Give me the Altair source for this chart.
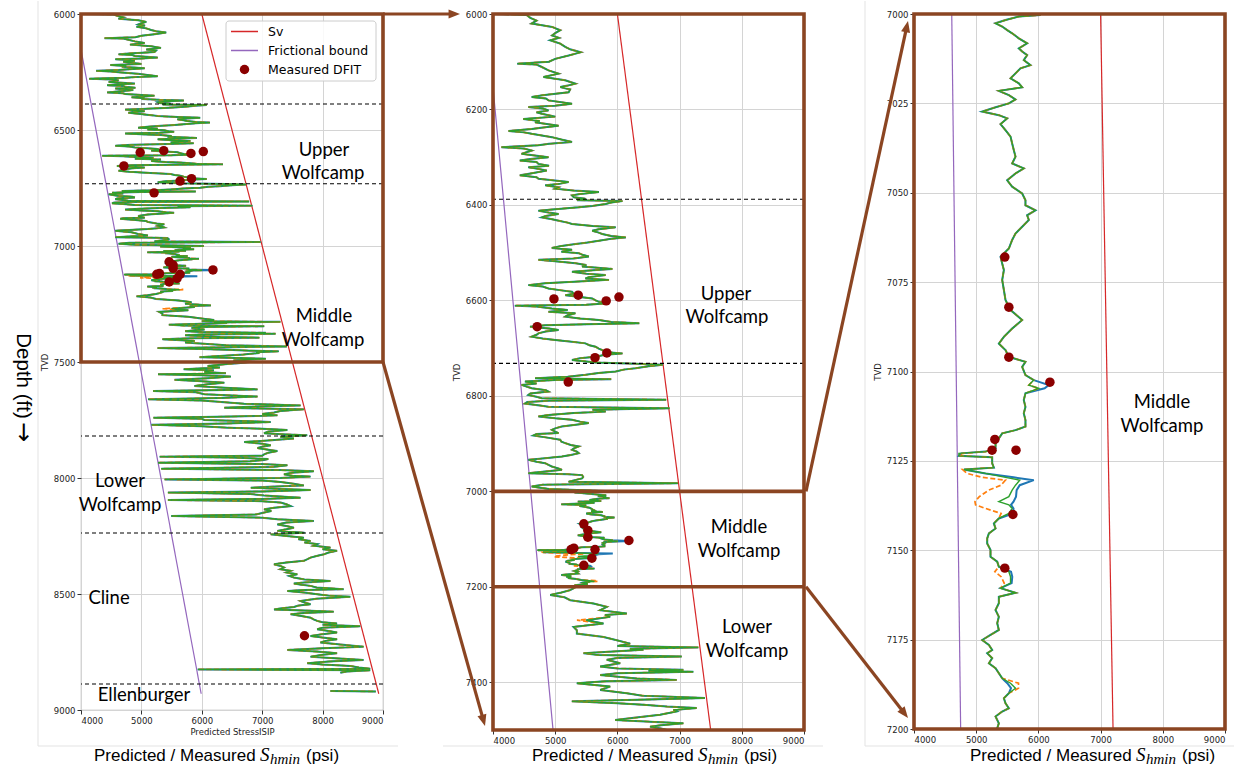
import math
import altair as alt
import pandas as pd

# ---------------------------------------------------------------------------
# Predicted Shmin log, (TVD ft, stress psi) pairs listed top to bottom
# ---------------------------------------------------------------------------
log_6000_6490 = [
    (6000, 4050), (6002, 4540), (6008, 4600), (6014, 4700), (6020, 4620), (6027, 4950),
    (6034, 5081), (6040, 5000), (6045, 4950), (6050, 5060), (6055, 4919), (6062, 5081),
    (6069, 5162), (6074, 5240), (6080, 5410), (6084, 5300), (6087, 5216), (6094, 5000),
    (6100, 4900), (6104, 4390), (6106, 4700), (6111, 4784), (6118, 4892), (6125, 5054),
    (6132, 4811), (6139, 5162), (6146, 5324), (6150, 5200), (6153, 5081), (6158, 5240),
    (6164, 5216), (6170, 4800), (6174, 4622), (6177, 4850), (6181, 4892), (6188, 5270),
    (6192, 5000), (6195, 4568), (6198, 4800), (6202, 4892), (6206, 4700), (6209, 4784),
    (6215, 5000), (6220, 4486), (6224, 4750), (6227, 4676), (6234, 5054), (6238, 4800),
    (6241, 4622), (6245, 4250), (6248, 4500), (6251, 4622), (6258, 4946), (6263, 5100),
    (6268, 5270), (6272, 4900), (6275, 4730), (6279, 4135), (6282, 4500), (6286, 4622),
    (6293, 4459), (6300, 4892), (6304, 4600), (6307, 4432), (6310, 4700), (6314, 4730),
    (6318, 4900), (6321, 4568), (6325, 4750), (6328, 4865), (6333, 4650), (6338, 4432),
    (6342, 4700), (6345, 4730), (6349, 5000), (6352, 5216), (6356, 5050), (6359, 4838),
    (6363, 5050), (6366, 5000), (6370, 5300), (6373, 5703), (6377, 5400), (6380, 5270),
    (6384, 5300), (6387, 5486), (6390, 5350), (6392, 6081), (6395, 5900), (6398, 5811),
    (6402, 5600), (6405, 5378), (6409, 5000), (6412, 4730), (6416, 4900), (6419, 5054),
    (6423, 4850), (6426, 4784), (6430, 4950), (6433, 5054), (6437, 5200), (6440, 5270),
    (6444, 5600), (6447, 5973), (6451, 5700), (6454, 5595), (6458, 5700), (6461, 5757),
    (6465, 5900), (6468, 6135), (6471, 5900), (6475, 5703), (6479, 5500), (6482, 5324),
    (6486, 5100), (6490, 4946),
]
log_6494_6995 = [
    (6494, 5270), (6498, 5100), (6501, 5378), (6505, 5450), (6508, 5541), (6512, 5300),
    (6515, 4730), (6518, 5000), (6522, 5324), (6526, 5500), (6529, 5432), (6534, 5919),
    (6537, 5600), (6540, 5270), (6544, 5500), (6547, 5811), (6551, 5550), (6554, 5486),
    (6557, 5865), (6561, 5300), (6564, 4838), (6568, 4568), (6571, 4800), (6575, 4892),
    (6579, 5100), (6582, 5270), (6586, 5300), (6589, 5162), (6593, 5400), (6596, 5595),
    (6600, 5650), (6603, 5703), (6606, 5865), (6609, 5500), (6611, 4351), (6613, 4700),
    (6617, 4946), (6620, 5200), (6624, 4892), (6627, 5324), (6631, 5200), (6634, 5162),
    (6638, 5400), (6641, 5703), (6645, 5900), (6648, 6351), (6650, 5500), (6652, 4838),
    (6655, 4595), (6659, 4900), (6662, 5054), (6665, 4850), (6669, 4730), (6672, 4700),
    (6676, 4622), (6680, 4800), (6683, 5000), (6687, 5300), (6690, 5486), (6694, 5550),
    (6697, 5649), (6701, 5700), (6704, 5757), (6708, 5800), (6711, 6081), (6714, 5800),
    (6718, 5649), (6721, 5400), (6725, 5270), (6728, 5500), (6730, 5649), (6733, 6400),
    (6735, 6730), (6738, 6500), (6742, 6297), (6745, 6100), (6749, 5973), (6752, 5700),
    (6756, 5486), (6760, 5200), (6763, 4676), (6765, 5900), (6767, 5000), (6770, 4514),
    (6774, 4700), (6777, 4459), (6781, 4550), (6784, 4622), (6788, 4850), (6791, 4892),
    (6795, 4600), (6798, 4568), (6802, 4700), (6805, 4784), (6808, 6784), (6810, 4900),
    (6813, 4550), (6816, 4514), (6820, 4750), (6823, 4892), (6826, 6838), (6829, 5600),
    (6833, 5811), (6836, 5300), (6840, 4892), (6843, 4730), (6847, 5000), (6850, 5270),
    (6854, 5400), (6857, 5541), (6861, 5300), (6864, 5108), (6868, 5000), (6871, 4946),
    (6875, 5000), (6878, 5054), (6880, 4700), (6883, 4649), (6888, 4900), (6892, 5081),
    (6896, 5100), (6899, 5162), (6903, 5250), (6906, 5378), (6910, 5300), (6913, 5270),
    (6917, 5350), (6920, 5378), (6924, 5250), (6927, 5108), (6931, 4800), (6934, 4568),
    (6938, 4700), (6941, 4838), (6945, 4900), (6948, 4946), (6952, 5050), (6955, 5108),
    (6959, 4800), (6962, 4568), (6964, 5200), (6966, 5432), (6970, 5450), (6973, 5432),
    (6977, 5300), (6980, 5216), (6983, 6973), (6986, 4800), (6990, 4622), (6995, 4900),
]
log_7000_7200 = [
    (7000.3, 6033), (7000.7, 5685), (7001.7, 5471), (7002.6, 5311), (7003.5, 5418),
    (7004.5, 5498), (7005.4, 5578), (7006.8, 5685), (7008.2, 5819), (7009.6, 5685),
    (7010.5, 5739), (7011.5, 5819), (7012.9, 5765), (7014.3, 5872), (7015.2, 5712),
    (7016.6, 5632), (7018.0, 5552), (7019.4, 5685), (7020.5, 5739), (7021.5, 5364),
    (7022.7, 5525), (7023.9, 5632), (7025.0, 5525), (7026.1, 5311), (7027.3, 5097),
    (7028.3, 5364), (7029.2, 5498), (7030.8, 5391), (7032.5, 5471), (7034.3, 5552),
    (7036.2, 5578), (7038.1, 5605), (7039.9, 5632), (7041.8, 5578), (7043.2, 5765),
    (7044.6, 5632), (7046.5, 5498), (7048.3, 5578), (7050.2, 5739), (7052.1, 5792),
    (7053.5, 5792), (7054.9, 5953), (7056.3, 5819), (7057.6, 5846), (7059.5, 5739),
    (7061.4, 5632), (7063.2, 5578), (7065.6, 5525), (7067.9, 5391), (7069.8, 5418),
    (7071.6, 5445), (7074.4, 5418), (7077.2, 5445), (7080.0, 5471), (7082.8, 5552),
    (7085.6, 5739), (7088.0, 5578), (7090.3, 5445), (7092.2, 5364), (7094.0, 5471),
    (7095.9, 5525), (7097.3, 5792), (7098.7, 5739), (7101.0, 5792), (7102.4, 5926),
    (7103.8, 5846), (7104.7, 6006), (7106.1, 5792), (7108.0, 5765), (7109.9, 5792),
    (7111.7, 5765), (7113.6, 5792), (7115.4, 5792), (7116.4, 5632), (7117.3, 5418),
    (7118.7, 5364), (7120.1, 5311), (7121.5, 5311), (7122.4, 5150), (7122.9, 4722),
    (7123.6, 4722), (7124.0, 5257), (7125.7, 5257), (7126.9, 5284), (7127.4, 4803),
    (7128.5, 5150), (7129.6, 5471), (7130.4, 5700), (7131.8, 5632), (7133.2, 5578),
    (7135.0, 5525), (7136.4, 5364), (7137.3, 5525), (7138.3, 5578), (7139.7, 5525),
    (7141.1, 5364), (7142.5, 5284), (7143.9, 5311), (7145.3, 5204), (7146.7, 5177),
    (7148.1, 5177), (7149.9, 5230), (7151.8, 5230), (7153.2, 5338), (7154.6, 5364),
    (7156.0, 5525), (7157.4, 5552), (7159.2, 5552), (7160.6, 5391), (7161.9, 5632),
    (7163.0, 5364), (7164.8, 5364), (7166.7, 5311), (7168.6, 5364), (7170.4, 5338),
    (7172.3, 5364), (7173.7, 5230), (7175.1, 5097), (7176.5, 5204), (7177.9, 5257),
    (7178.8, 5177), (7180.2, 5257), (7181.6, 5204), (7183.0, 5311), (7184.4, 5364),
    (7185.8, 5418), (7187.2, 5552), (7188.6, 5632), (7190.0, 5525), (7191.4, 5445),
    (7192.8, 5471), (7194.2, 5525), (7195.1, 5418), (7196.5, 5311), (7198.4, 5364),
    (7199.8, 5338),
]
log_7203_7497 = [
    (7203, 5300), (7207, 5241), (7212, 5100), (7217, 4920), (7222, 5150), (7228, 5241),
    (7235, 5616), (7242, 5830), (7249, 5723), (7256, 6151), (7259, 5800), (7263, 5883),
    (7270, 5500), (7277, 5776), (7284, 5295), (7291, 5348), (7298, 5348), (7305, 5776),
    (7312, 5990), (7319, 6204), (7324, 6000), (7327, 7301), (7330, 6200), (7332, 6418),
    (7339, 5455), (7343, 5700), (7346, 7033), (7349, 6000), (7353, 5830), (7360, 6044),
    (7367, 5723), (7371, 6000), (7374, 7060), (7376, 6500), (7378, 7221), (7381, 6000),
    (7385, 5723), (7392, 6311), (7395, 6953), (7398, 5800), (7402, 5348), (7409, 5883),
    (7416, 5723), (7423, 6151), (7428, 6400), (7433, 7408), (7436, 6500), (7440, 5268),
    (7444, 6000), (7447, 6418), (7451, 6800), (7454, 7274), (7458, 6900), (7461, 6953),
    (7468, 6686), (7474, 6300), (7479, 5963), (7483, 6600), (7486, 7060), (7490, 6700),
    (7493, 6525), (7497, 6700),
]
log_7500_8243 = [
    (7500, 6800), (7505, 6600), (7510, 6373), (7517, 6098), (7524, 6300), (7531, 5700),
    (7536, 6200), (7543, 6043), (7548, 6400), (7553, 5275), (7557, 6000), (7563, 6482),
    (7570, 6100), (7577, 5549), (7583, 6000), (7589, 6373), (7596, 6100), (7603, 5878),
    (7610, 6300), (7618, 6922), (7621, 6400), (7625, 5192), (7630, 5900), (7639, 6043),
    (7644, 6500), (7649, 6922), (7655, 6300), (7661, 5110), (7666, 6000), (7672, 6318),
    (7680, 6700), (7687, 7635), (7692, 6900), (7697, 6373), (7700, 6900), (7704, 7690),
    (7711, 7300), (7718, 7196), (7724, 7000), (7730, 7251), (7735, 6500), (7740, 5200),
    (7745, 6000), (7750, 6043), (7755, 6800), (7759, 7141), (7765, 6400), (7771, 5165),
    (7777, 6000), (7783, 6427), (7788, 7000), (7793, 7416), (7800, 7100), (7807, 7031),
    (7812, 7400), (7816, 7745), (7822, 7300), (7830, 7525), (7838, 7100), (7845, 6702),
    (7852, 7000), (7859, 7141), (7865, 7000), (7871, 6922), (7878, 7100), (7884, 7251),
    (7891, 7100), (7898, 7031), (7904, 7000), (7908, 5302), (7912, 6500), (7918, 7100),
    (7922, 7031), (7928, 6800), (7934, 5275), (7940, 7000), (7945, 7416), (7952, 7200),
    (7960, 5329), (7966, 7300), (7971, 7855), (7977, 7500), (7984, 7361), (7990, 7500),
    (7994, 7800), (8000, 7300), (8006, 5384), (8011, 7000), (8017, 7306), (8024, 7500),
    (8032, 7690), (8037, 7200), (8042, 6812), (8047, 7300), (8052, 7800), (8058, 7000),
    (8063, 5439), (8069, 6800), (8075, 7031), (8080, 7300), (8085, 7635), (8090, 7000),
    (8095, 5439), (8100, 7000), (8106, 7306), (8113, 7400), (8121, 7471), (8128, 7200),
    (8135, 7031), (8142, 7150), (8149, 7031), (8157, 6900), (8164, 5494), (8171, 7000),
    (8178, 7251), (8185, 7855), (8192, 7400), (8200, 7251), (8207, 7400), (8214, 7525),
    (8221, 7400), (8228, 7251), (8236, 7700), (8243, 7141),
]
log_8250_8839 = [
    (8250, 7400), (8257, 7690), (8264, 7600), (8271, 7800), (8278, 7700), (8285, 7910),
    (8292, 7850), (8300, 8129), (8307, 8000), (8314, 8239), (8321, 8100), (8329, 8020),
    (8336, 7900), (8343, 7800), (8350, 7750), (8357, 7690), (8364, 7400), (8372, 7196),
    (8379, 7300), (8386, 7361), (8393, 7300), (8400, 7471), (8407, 7400), (8415, 7580),
    (8422, 7450), (8429, 7525), (8437, 7700), (8444, 8129), (8450, 7700), (8455, 7525),
    (8460, 7650), (8465, 7800), (8472, 7900), (8479, 8349), (8483, 7700), (8487, 7416),
    (8494, 7700), (8501, 7910), (8507, 8100), (8512, 8459), (8520, 7900), (8530, 7635),
    (8537, 7700), (8544, 7800), (8550, 7600), (8556, 7525), (8562, 7300), (8567, 7196),
    (8572, 7800), (8576, 8184), (8582, 7700), (8587, 7471), (8595, 7650), (8602, 7800),
    (8609, 7850), (8616, 7910), (8622, 8000), (8627, 8239), (8633, 8000), (8639, 8623),
    (8645, 8000), (8652, 7910), (8659, 8100), (8666, 8239), (8673, 8000), (8681, 7800),
    (8688, 8000), (8695, 8239), (8702, 8050), (8709, 7965), (8718, 8300), (8727, 8678),
    (8734, 8000), (8741, 7416), (8748, 7900), (8755, 8239), (8762, 8000), (8770, 7800),
    (8777, 8200), (8784, 8678), (8791, 8100), (8798, 7745), (8804, 8000), (8810, 8459),
    (8817, 8600), (8822, 8788), (8825, 5933), (8829, 8788), (8834, 8400), (8839, 8294),
]
log_ellenburger = [(8918, 8130), (8920, 8880)]

# The three predicted curves coincide except at these depths
blue_departures = {
    7103.8: 6167, 7104.7: 6100, 7122.9: 4760, 7129.6: 5600, 7130.4: 5926, 7131.8: 5700,
    7133.2: 5650, 7135.0: 5640, 7136.4: 5600, 7137.3: 5560, 7138.3: 5600, 7139.7: 5590,
    7156.0: 5560, 7157.4: 5580, 7159.2: 5570, 7187.2: 5500, 7188.6: 5560,
}
orange_departures = {
    7122.9: 4780, 7127.4: 4780, 7128.5: 4850, 7129.6: 5100, 7130.4: 5470, 7131.8: 5400,
    7133.2: 5200, 7135.0: 5050, 7136.4: 4980, 7137.3: 4990, 7138.3: 5150, 7139.7: 5400,
    7156.0: 5300, 7157.4: 5400, 7159.2: 5450, 7187.2: 5680, 7188.6: 5680, 7270: 5350,
}

# Measured DFIT closure stresses
dfit_depth_ft = [6589, 6593, 6597, 6601, 6655, 6710, 6720, 6771, 7068, 7082, 7096,
                 7103, 7119, 7122, 7122, 7140, 7155, 8680]
dfit_psi = [5370, 6025, 4980, 5820, 4710, 5830, 5640, 5210, 5460, 5525, 5525,
            6185, 5300, 5255, 5640, 5590, 5460, 7700]

# Overburden and frictional lower bound
sv_depth_ft = [6000, 8930]
sv_psi = [6000, 8930]
friction_depth_ft = [6000, 8930]
friction_psi = [3890, 5990]

# Formation tops (dashed)
formation_tops_ft = [6388, 6732, 7819, 8237, 8888]

# Formation names per panel: text, psi, depth
names_full = [("Upper", 8023, 6586), ("Wolfcamp", 8007, 6687), ("Middle", 8023, 7302),
              ("Wolfcamp", 8007, 7405), ("Lower", 4646, 8013), ("Wolfcamp", 4646, 8116),
              ("Cline", 4464, 8517), ("Ellenburger", 5043, 8935)]
names_upper = [("Upper", 7746, 6587), ("Wolfcamp", 7762, 6635), ("Middle", 7955, 7075),
               ("Wolfcamp", 7955, 7125), ("Lower", 8084, 7284), ("Wolfcamp", 8084, 7334)]
names_middle = [("Middle", 7987, 7108.5), ("Wolfcamp", 7987, 7115.2)]

X_DOMAIN = [4000, 9000]
X_TICKS = [4000, 5000, 6000, 7000, 8000, 9000]

BROWN = "#8b4522"
FRAME = "#e3e3e3"
W1, H1 = 302, 696
W2, H2 = 311, 716
W3, H3 = 311, 715
GAP = 110

# ---------------------------------------------------------------------------
main_log = (log_6000_6490 + log_6494_6995 + log_7000_7200 + log_7203_7497
            + log_7500_8243 + log_8250_8839)


def curve(departures):
    rows = []
    for seg, pts in enumerate([main_log, log_ellenburger]):
        for d, p in pts:
            rows.append({"depth": d, "psi": departures.get(d, p), "seg": seg})
    return pd.DataFrame(rows)


blue_df = curve(blue_departures)
orange_df = curve(orange_departures)
green_df = curve({})
dfit_df = pd.DataFrame({"depth": dfit_depth_ft, "psi": dfit_psi})
sv_df = pd.DataFrame({"depth": sv_depth_ft, "psi": sv_psi})
fric_df = pd.DataFrame({"depth": friction_depth_ft, "psi": friction_psi})
tops_df = pd.DataFrame({"depth": formation_tops_ft})
ONE = pd.DataFrame({"k": [0]})


def window(df, lo, hi, pad=15):
    return df[(df.depth >= lo - pad) & (df.depth <= hi + pad)]


def encodings(ydom, yticks, xtitle):
    x = alt.X("psi:Q", scale=alt.Scale(domain=X_DOMAIN, nice=False, zero=False),
              axis=alt.Axis(values=X_TICKS, format="d", title=xtitle, titlePadding=3))
    y = alt.Y("depth:Q", scale=alt.Scale(domain=ydom, reverse=True, nice=False, zero=False),
              axis=alt.Axis(values=yticks, format="d", title="TVD", titlePadding=4))
    return x, y


def text_px(label, x, y, **kw):
    return alt.Chart(pd.DataFrame({"label": [label]})).mark_text(**kw).encode(
        text="label:N", x=alt.value(x), y=alt.value(y))


def rule_px(x, x2, y, y2, color, width):
    return alt.Chart(ONE).mark_rule(color=color, strokeWidth=width).encode(
        x=alt.value(x), x2=alt.value(x2), y=alt.value(y), y2=alt.value(y2))


def shmin_title(left, base):
    return [
        text_px("Predicted / Measured", left, base, align="left", baseline="alphabetic",
                font="Liberation Sans", fontSize=17, color="black"),
        text_px("S", left + 166, base, align="left", baseline="alphabetic",
                font="Liberation Serif", fontStyle="italic", fontSize=19, color="black"),
        text_px("hmin", left + 176, base + 3, align="left", baseline="alphabetic",
                font="Liberation Serif", fontStyle="italic", fontSize=15, color="black"),
        text_px("(psi)", left + 212, base, align="left", baseline="alphabetic",
                font="Liberation Sans", fontSize=17, color="black"),
    ]


def arrow(tail, tip):
    dx, dy = tip[0] - tail[0], tip[1] - tail[1]
    n = math.hypot(dx, dy)
    ang = math.degrees(math.atan2(dx, -dy)) % 360
    shaft = rule_px(tail[0], tip[0] - 5 * dx / n, tail[1], tip[1] - 5 * dy / n, BROWN, 3.2)
    head = alt.Chart(ONE).mark_point(
        shape="M0,0L-0.7,1.75L0.7,1.75Z", filled=True, color=BROWN, opacity=1,
        size=170, angle=ang, strokeWidth=0).encode(x=alt.value(tip[0]), y=alt.value(tip[1]))
    return [shaft, head]


def data_layers(x, y, lo, hi):
    order = alt.Order("depth:Q")
    layers = [
        alt.Chart(fric_df).mark_line(color="#9467bd", strokeWidth=1.2, clip=True).encode(
            x=x, y=y, order=order),
        alt.Chart(sv_df).mark_line(color="#d62728", strokeWidth=1.2, clip=True).encode(
            x=x, y=y, order=order),
        alt.Chart(window(blue_df, lo, hi)).mark_line(color="#1f77b4", strokeWidth=2.0,
                                                     clip=True).encode(
            x=x, y=y, detail="seg:N", order=order),
        alt.Chart(window(orange_df, lo, hi)).mark_line(color="#ff7f0e", strokeWidth=1.7,
                                                       strokeDash=[5, 2.5], clip=True).encode(
            x=x, y=y, detail="seg:N", order=order),
        alt.Chart(window(green_df, lo, hi)).mark_line(color="#2ca02c", strokeWidth=1.4,
                                                      clip=True).encode(
            x=x, y=y, detail="seg:N", order=order),
        alt.Chart(tops_df[(tops_df.depth > lo) & (tops_df.depth < hi)]).mark_rule(
            color="black", strokeDash=[4, 3], strokeWidth=1.1).encode(y=y),
        alt.Chart(dfit_df[(dfit_df.depth >= lo) & (dfit_df.depth <= hi)]).mark_circle(
            size=90, color="#8b0000", opacity=1).encode(x=x, y=y),
    ]
    return layers


def names_layer(names, x, y):
    df = pd.DataFrame(names, columns=["label", "psi", "depth"])
    return alt.Chart(df).mark_text(font="Lato", fontSize=18.5, color="black",
                                   align="center", baseline="middle").encode(
        x=x, y=y, text="label:N")


def box_layer(x, y, lo, hi):
    df = pd.DataFrame({"psi": [X_DOMAIN[0]], "psi2": [X_DOMAIN[1]],
                       "depth": [lo], "depth2": [hi]})
    return alt.Chart(df).mark_rect(fillOpacity=0, stroke=BROWN, strokeWidth=3.6,
                                   clip=False).encode(
        x=x, x2="psi2:Q", y=y, y2="depth2:Q")


# ---- panel 1: full well -----------------------------------------------------
x1, y1 = encodings([6000, 9000], [6000, 6500, 7000, 7500, 8000, 8500, 9000],
                   "Predicted StressISIP")
legend = [
    alt.Chart(ONE).mark_rect(
        fill="white", fillOpacity=0.85, stroke="#cccccc", strokeWidth=1,
        cornerRadius=3).encode(x=alt.value(145), x2=alt.value(295),
                               y=alt.value(7), y2=alt.value(67)),
    rule_px(150, 177, 17.5, 17.5, "#d62728", 1.5),
    rule_px(150, 177, 36.5, 36.5, "#9467bd", 1.5),
    alt.Chart(ONE).mark_circle(size=90, color="#8b0000", opacity=1).encode(
        x=alt.value(163.5), y=alt.value(55.5)),
    text_px("Sv", 187, 17.5, align="left", baseline="middle", font="DejaVu Sans",
            fontSize=12.5, color="black"),
    text_px("Frictional bound", 187, 36.5, align="left", baseline="middle",
            font="DejaVu Sans", fontSize=12.5, color="black"),
    text_px("Measured DFIT", 187, 55.5, align="left", baseline="middle",
            font="DejaVu Sans", fontSize=12.5, color="black"),
]
panel1 = alt.layer(
    rule_px(-43, -43, -13, 732, FRAME, 1),
    rule_px(-43, 317, 732, 732, FRAME, 1),
    *data_layers(x1, y1, 6000, 9000),
    names_layer(names_full, x1, y1),
    box_layer(x1, y1, 6000, 7500),
    *legend,
    text_px("Depth (ft)", -58, 362, angle=90, align="center", baseline="middle",
            font="Liberation Sans", fontSize=20.5, color="black"),
    text_px("\u2192", -58, 418, angle=90, align="center", baseline="middle",
            font="DejaVu Sans", fontSize=24, color="black"),
    *shmin_title(13, 747),
).properties(width=W1, height=H1)

# ---- panel 2: Wolfcamp 6000-7500 ft ----------------------------------------
x2, y2 = encodings([6000, 7500], [6000, 6200, 6400, 6600, 6800, 7000, 7200, 7400], None)
bounds2 = alt.Chart(pd.DataFrame({"depth": [7000, 7200]})).mark_rule(
    color=BROWN, strokeWidth=3.6).encode(y=y2)
panel2 = alt.layer(
    rule_px(-50, 330, 732, 732, FRAME, 1),
    *data_layers(x2, y2, 6000, 7500),
    names_layer(names_upper, x2, y2),
    box_layer(x2, y2, 6000, 7500),
    bounds2,
    *arrow((-GAP, 0), (-33, 0)),
    *arrow((-GAP, H1 * 1500 / 3000), (-8, H2 - 4)),
    *shmin_title(39, 747),
).properties(width=W2, height=H2)

# ---- panel 3: Middle Wolfcamp 7000-7200 ft ---------------------------------
x3, y3 = encodings([7000, 7200], [7000, 7025, 7050, 7075, 7100, 7125, 7150, 7175, 7200], None)
panel3 = alt.layer(
    rule_px(-49, -49, -13, 732, FRAME, 1),
    rule_px(-49, 320, 732, 732, FRAME, 1),
    *data_layers(x3, y3, 7000, 7200),
    names_layer(names_middle, x3, y3),
    box_layer(x3, y3, 7000, 7200),
    *arrow((-GAP + 2, H2 * 1000 / 1500), (-6, 7)),
    *arrow((-GAP + 2, H2 * 1200 / 1500), (-6, H3 - 11)),
    *shmin_title(56, 747),
).properties(width=W3, height=H3)

chart = alt.hconcat(panel1, panel2, panel3, spacing=GAP, bounds="flush").resolve_scale(
    x="independent", y="independent"
).properties(
    padding={"left": 10, "top": 0, "right": 4, "bottom": 0},
    background="white",
).configure_view(
    stroke="#333333", strokeWidth=0.9
).configure_axis(
    labelFont="DejaVu Sans", labelFontSize=8.5, labelColor="#222222",
    titleFont="DejaVu Sans", titleFontSize=8.5, titleFontWeight="normal",
    titleColor="#222222", tickColor="#333333", tickSize=4, labelPadding=2,
    domain=False, gridColor="#d4d4d4", gridWidth=1,
)

chart.save("out.html", embed_options={"renderer": "svg", "actions": False})
